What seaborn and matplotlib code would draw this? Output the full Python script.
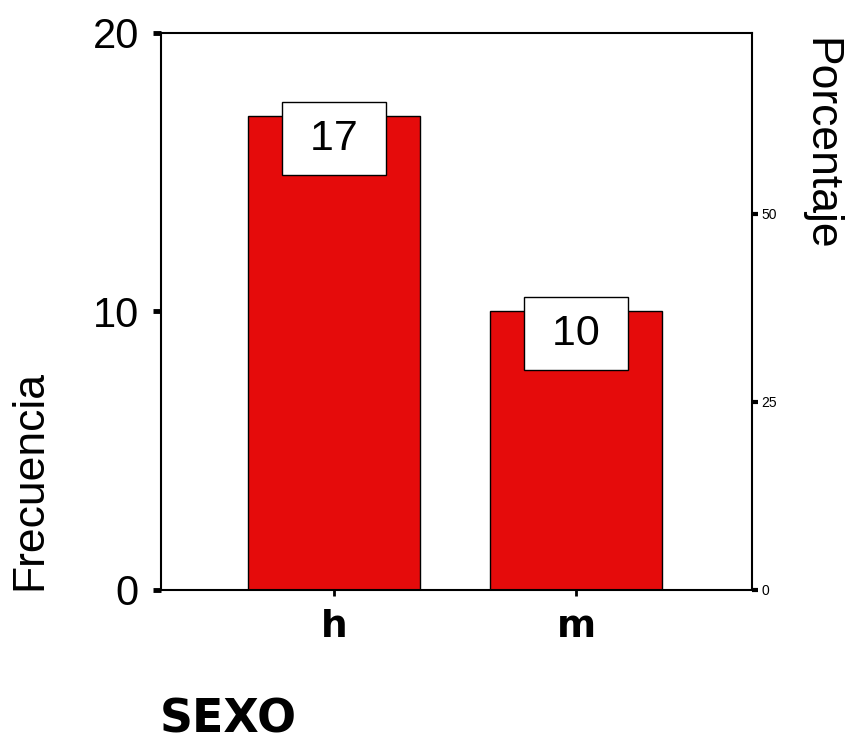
import numpy as np
import pandas as pd
import matplotlib
matplotlib.use("Agg")
import matplotlib.pyplot as plt
import seaborn as sns

# datos
categorias = ["h", "m"]
frecuencias = [17, 10]
ticks_frec = [0, 10, 20]
ticks_pct = [0, 25, 50]

total = sum(frecuencias)
df = pd.DataFrame({"SEXO": categorias, "Frecuencia": frecuencias})

sns.set_style("white")
plt.rcParams['font.family'] = ['Liberation Sans', 'DejaVu Sans']
plt.rcParams['text.color'] = 'black'
plt.rcParams['xtick.color'] = 'black'
plt.rcParams['ytick.color'] = 'black'

fig = plt.figure(figsize=(8.46, 7.42), dpi=100)
ax = fig.add_axes([0.1903, 0.2049, 0.6986, 0.7507])

sns.barplot(data=df, x="SEXO", y="Frecuencia", color="#e50b0b", saturation=1,
            width=0.71, edgecolor="black", linewidth=1, ax=ax)

ax.set_xlim(-0.715, 1.727)
ax.set_ylim(0, 20)
ax.set_yticks(ticks_frec)
ax.set_xlabel("")
ax.set_ylabel("")
for s in ax.spines.values():
    s.set_color("black")
    s.set_linewidth(1.5)
    s.set_visible(True)

ax.tick_params(axis="y", which="both", left=True, length=6, width=3.5,
               labelsize=30, pad=10, color="black", labelcolor="black")
ax.tick_params(axis="x", bottom=True, length=4, width=2, pad=10, color="black",
               labelcolor="black")
for t in ax.get_xticklabels():
    t.set_fontfamily("DejaVu Sans")
    t.set_fontweight("heavy")
    t.set_fontsize(27)

# etiquetas de valor en recuadro blanco
for i, v in enumerate(frecuencias):
    ax.text(i, v - 0.8, " %d " % v, ha="center", va="center", fontsize=31,
            color="black",
            bbox=dict(boxstyle="square,pad=0.38", facecolor="white",
                      edgecolor="black", linewidth=1))

# eje derecho de porcentaje
ax2 = ax.twinx()
ax2.set_ylim(0, 20 / total * 100)
ax2.set_yticks(ticks_pct)
ax2.tick_params(axis="y", right=True, length=4, width=3, labelsize=10, pad=3,
                color="black", labelcolor="black")
for s in ax2.spines.values():
    s.set_visible(False)

fig.text(30 / 846, 1 - 480 / 742, "Frecuencia", rotation=90, ha="center",
         va="center", fontsize=32, color="black")
fig.text(820 / 846, 1 - 144 / 742, "Porcentaje", rotation=-90, ha="center",
         va="center", fontsize=32, color="black")
fig.text(160 / 846, 1 - 720 / 742, "SEXO", ha="left", va="center",
         fontsize=33, fontweight="heavy", family="DejaVu Sans", color="black")

fig.savefig("out.png", dpi=100, facecolor="white")
